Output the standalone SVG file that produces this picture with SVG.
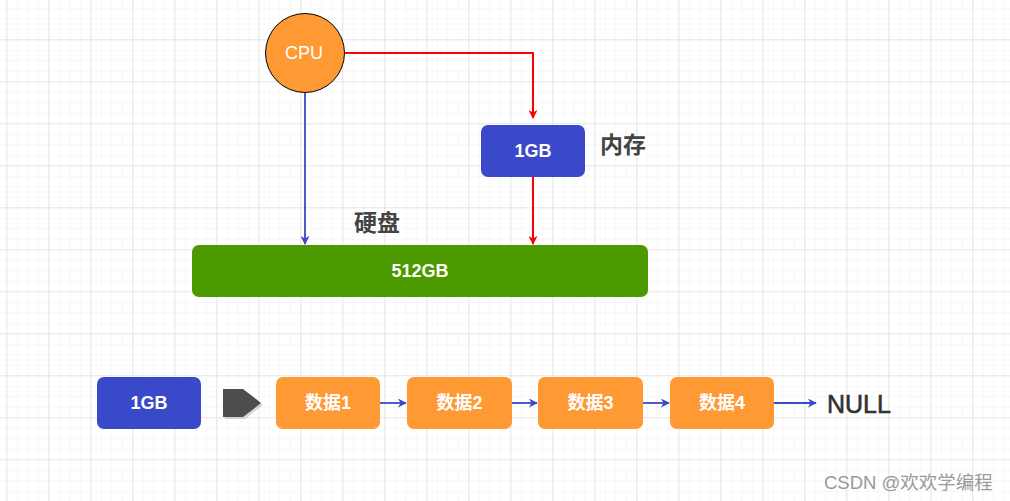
<svg xmlns="http://www.w3.org/2000/svg" width="1010" height="501" viewBox="0 0 1010 501">
<defs>
<pattern id="minor" width="10.5" height="10.5" patternUnits="userSpaceOnUse" x="6.3" y="-2.7">
<path d="M0 0H10.5M0 0V10.5" fill="none" stroke="#efefef" stroke-width="1"/>
</pattern>
<pattern id="major" width="42" height="42" patternUnits="userSpaceOnUse" x="6.3" y="-2.7">
<path d="M0 0H42M0 0V42" fill="none" stroke="#d6d6d6" stroke-width="1"/>
</pattern>
<marker id="arrRed" viewBox="0 0 10 10" refX="9" refY="5" markerWidth="9" markerHeight="9" markerUnits="userSpaceOnUse" orient="auto">
<path d="M0 0L10 5L0 10L3 5Z" fill="#ff0000"/>
</marker>
<marker id="arrBlue" viewBox="0 0 10 10" refX="9" refY="5" markerWidth="9" markerHeight="9" markerUnits="userSpaceOnUse" orient="auto">
<path d="M0 0L10 5L0 10L3 5Z" fill="#3949c9"/>
</marker>
</defs>
<style>
.lbl{font-family:"Liberation Sans","Noto Sans CJK SC",sans-serif;font-weight:bold;font-size:18px;fill:#ffffff;text-anchor:middle;dominant-baseline:central}
.title{font-family:"Liberation Sans","Noto Sans CJK SC",sans-serif;font-weight:bold;font-size:23px;fill:#444444}
.blue{fill:#3949c9}
.orange{fill:#ff9933}
.red{fill:none;stroke:#ff0000;stroke-width:2;marker-end:url(#arrRed)}
.bl{fill:none;stroke:#3949c9;stroke-width:1.8;marker-end:url(#arrBlue)}
</style>
<rect width="1010" height="501" fill="#ffffff"/>
<rect width="1010" height="501" fill="url(#minor)"/>
<rect width="1010" height="501" fill="url(#major)"/>

<g id="connectors">
<path class="red" d="M345 53H533V118"/>
<path class="red" d="M533 177V244"/>
<path class="bl" d="M305 93V244"/>
<path class="bl" d="M380 403H406"/>
<path class="bl" d="M512 403H537"/>
<path class="bl" d="M643 403H669"/>
<path class="bl" d="M774 403H816"/>
</g>

<g id="cpu">
<circle cx="305" cy="53" r="39.5" fill="#ff9933" stroke="#000000" stroke-width="1"/>
<text x="304" y="53" class="lbl" style="font-weight:normal">CPU</text>
</g>
<g id="mem">
<rect x="481" y="125" width="104" height="52" rx="7" class="blue"/>
<text x="533" y="151" class="lbl">1GB</text>
</g>
<g id="mem-label">
<text x="600" y="153" class="title">内存</text>
</g>
<g id="disk-label">
<text x="354" y="231" class="title">硬盘</text>
</g>
<g id="disk">
<rect x="192" y="245" width="456" height="52" rx="7" fill="#4d9900"/>
<text x="420" y="271" class="lbl">512GB</text>
</g>
<g id="mem2">
<rect x="97" y="377" width="104" height="52" rx="7" class="blue"/>
<text x="149" y="403" class="lbl">1GB</text>
</g>
<g id="bigarrow">
<polygon points="225,391 245,391 263,405 245,419 225,419" fill="#bbbbbb" opacity="0.6"/>
<polygon points="223,389 243,389 261,403 243,417 223,417" fill="#4d4d4d"/>
</g>
<g id="d1">
<rect x="276" y="377" width="104" height="52" rx="7" class="orange"/>
<text x="328" y="403" class="lbl">数据1</text>
</g>
<g id="d2">
<rect x="407" y="377" width="105" height="52" rx="7" class="orange"/>
<text x="459.5" y="403" class="lbl">数据2</text>
</g>
<g id="d3">
<rect x="538" y="377" width="105" height="52" rx="7" class="orange"/>
<text x="590.5" y="403" class="lbl">数据3</text>
</g>
<g id="d4">
<rect x="670" y="377" width="104" height="52" rx="7" class="orange"/>
<text x="722" y="403" class="lbl">数据4</text>
</g>
<g id="null">
<text x="827" y="413" font-family="'Liberation Sans',sans-serif" font-size="25" fill="#333333" stroke="#333333" stroke-width="0.6">NULL</text>
</g>
<text x="824" y="489" font-family="'Liberation Sans','Noto Sans CJK SC',sans-serif" font-size="18.5" fill="#999999">CSDN @欢欢学编程</text>
</svg>
